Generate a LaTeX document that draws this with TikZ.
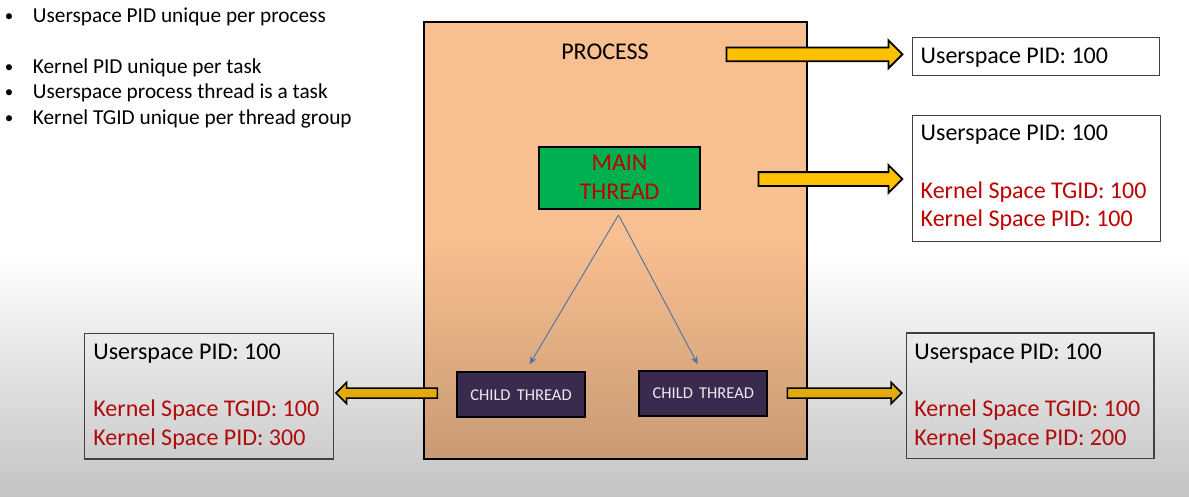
\documentclass[tikz,border=0pt]{standalone}
\usepackage{fontspec}
\setmainfont{Carlito}
\usetikzlibrary{shapes.arrows,arrows.meta}
\definecolor{bgbot}{HTML}{C4C4C4}
\definecolor{peach}{HTML}{F8BF90}
\definecolor{peachdk}{HTML}{C89A74}
\definecolor{mgreen}{HTML}{00B050}
\definecolor{kred}{HTML}{C00000}
\definecolor{kredb}{HTML}{B00A0A}
\definecolor{cpurple}{HTML}{3A2B4E}
\definecolor{ctext}{HTML}{ECE8F2}
\definecolor{ayel}{HTML}{FFC000}
\definecolor{ayelb}{HTML}{E2AA0C}
\definecolor{lblue}{HTML}{4A72A8}
\definecolor{bxline}{HTML}{404040}
\newcommand{\blt}{\llap{\makebox[0pt]{\raisebox{1.2pt}{\fontsize{17}{17}\selectfont •}}\hspace{23.7pt}}}
\begin{document}
\begin{tikzpicture}[x=1pt,y=-1pt,
  infobox/.style={draw=bxline,line width=1.2pt,anchor=north west,inner sep=0pt},
  infotext/.style={anchor=base west,inner sep=0pt,font=\fontsize{24}{28.7}\selectfont},
  blockarrow/.style={single arrow,draw=black,line width=1.8pt,inner sep=0pt,
    text height=6pt,text depth=6pt,
    single arrow head extend=7pt,minimum width=26pt,fill=ayel},
  smallarrow/.style={single arrow,draw=black,line width=1.5pt,inner sep=0pt,
    text height=4.25pt,text depth=4.25pt,
    single arrow head extend=5.75pt,minimum width=20pt,fill=ayelb},
  childbox/.style={draw=black,line width=2pt,fill=cpurple,text=ctext,inner sep=0pt,
    minimum width=128pt,minimum height=45pt,font=\fontsize{16.5}{20}\selectfont},
  conn/.style={draw=lblue,line width=0.9pt,-{Stealth[length=8pt,width=6.5pt]}}]
\useasboundingbox (0,0) rectangle (1189,496);
\fill[white] (0,0) rectangle (1189,256);
\shade[top color=white,bottom color=bgbot] (0,255) rectangle (1189,496);

% bullets
\node[anchor=base west,inner sep=0pt,font=\fontsize{21.3}{25.4}\selectfont] (bul) at (32.7,22.7)
 {\begin{tabular}[t]{@{}l@{}}
 \blt Userspace PID unique per process\\
 \\
 \blt Kernel PID unique per task\\
 \blt Userspace process thread is a task\\
 \blt Kernel TGID unique per thread group
 \end{tabular}};

% process box
\node[draw=black,line width=2pt,anchor=north west,inner sep=0pt,
  minimum width=383pt,minimum height=437pt,
  top color=peach,bottom color=peachdk,middle color=peach] (proc) at (423,21) {};
\node[anchor=base,inner sep=0pt,font=\fontsize{24}{28}\selectfont] (ptitle) at (605,59.5) {PROCESS};

\node[draw=black,line width=2pt,fill=mgreen,minimum width=161pt,minimum height=62pt,
  inner sep=0pt,align=center,text=kred,font=\fontsize{24}{29}\selectfont] (main) at (619.5,177.7) {MAIN\\THREAD};

\node[childbox] (c1) at (521,394.8) {CHILD\hspace{0.15em} THREAD};
\node[childbox] (c2) at (703.3,393.3) {CHILD\hspace{0.15em} THREAD};

\coordinate (apex) at (618.5,215);
\coordinate (e1) at (529.6,364.3);
\coordinate (e2) at (697.8,364.3);
\draw[conn] (apex) -- (e1);
\draw[conn] (apex) -- (e2);

% block arrows
\node[blockarrow,minimum height=176pt] (aP) at (811,54.3) {};
\node[blockarrow,minimum height=144pt] (aM) at (827,179) {};
\node[smallarrow,minimum height=101.5pt,shape border rotate=180] (aL) at (389.2,393) {};
\node[smallarrow,minimum height=114.5pt] (aR) at (842,393) {};

% info boxes
\node[infobox,fill=white,minimum width=247pt,minimum height=38pt] (b1) at (912,37) {};
\node[infotext] (t1) at (920.5,63.3) {Userspace PID: 100};

\node[infobox,fill=white,minimum width=248pt,minimum height=125.5pt] (b2) at (912,115) {};
\node[infotext] (t2) at (920.5,140.7) {\begin{tabular}[t]{@{}l@{}}
 Userspace PID: 100\\ \\
 \textcolor{kred}{Kernel Space TGID: 100}\\
 \textcolor{kred}{Kernel Space PID: 100}\end{tabular}};

\node[infobox,minimum width=248.7pt,minimum height=125.6pt] (b3) at (84,332.7) {};
\node[infotext] (t3) at (93.2,359.3) {\begin{tabular}[t]{@{}l@{}}
 Userspace PID: 100\\ \\
 \textcolor{kredb}{Kernel Space TGID: 100}\\
 \textcolor{kredb}{Kernel Space PID: 300}\end{tabular}};

\node[infobox,minimum width=247.6pt,minimum height=125.4pt] (b4) at (905.7,332.3) {};
\node[infotext] (t4) at (914.2,359.3) {\begin{tabular}[t]{@{}l@{}}
 Userspace PID: 100\\ \\
 \textcolor{kredb}{Kernel Space TGID: 100}\\
 \textcolor{kredb}{Kernel Space PID: 200}\end{tabular}};
\end{tikzpicture}
\end{document}
